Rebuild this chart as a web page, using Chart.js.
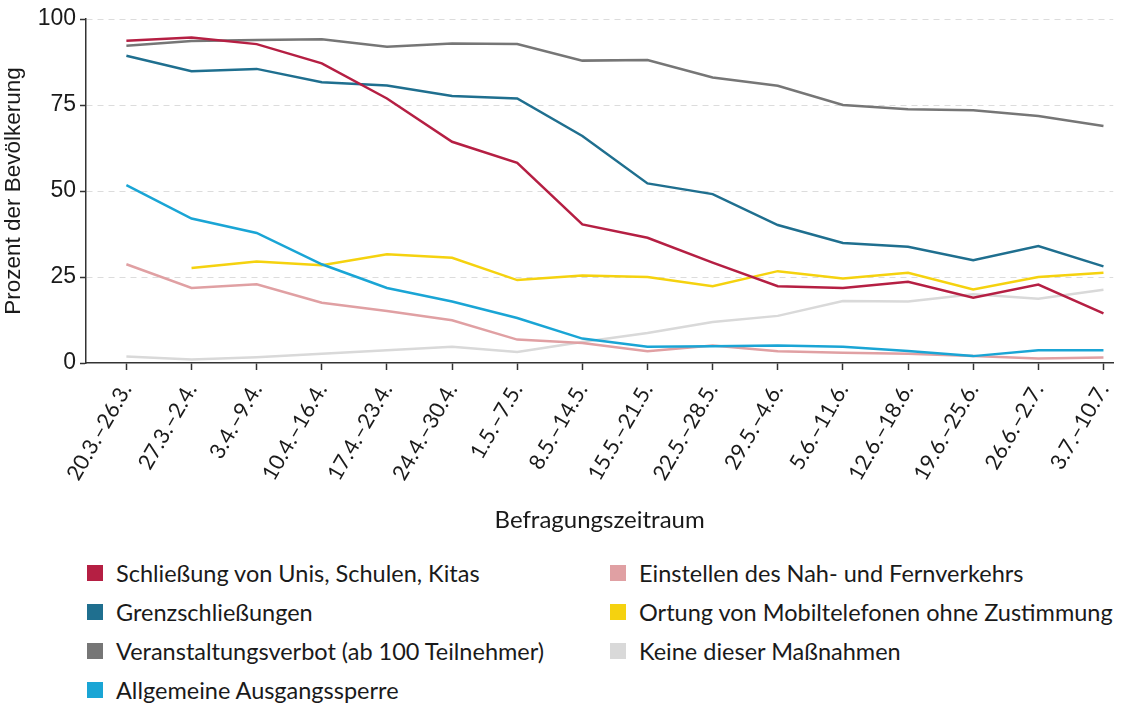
<!DOCTYPE html>
<html>
<head>
<meta charset="utf-8">
<script src="https://cdn.jsdelivr.net/npm/chart.js@4/dist/chart.umd.min.js"></script>
<style>
  html, body { margin: 0; padding: 0; background: #fff; }
  #wrap { position: relative; width: 1135px; height: 706px; overflow: hidden; }
  #box { position: absolute; left: 0; top: 0; width: 1135px; height: 540px; }
  #legend {
    position: absolute; left: 87px; top: 553px;
    display: grid; grid-auto-flow: column;
    grid-template-rows: repeat(4, 39px);
    grid-template-columns: 523px auto;
    font-family: Lato, "Noto Sans", sans-serif; font-size: 23.5px; color: #1a1a1a;
  }
  .item { display: flex; align-items: center; white-space: nowrap; }
  .sw { width: 16px; height: 16px; margin-right: 13px; flex: none; }
</style>
</head>
<body>
<div id="wrap">
  <div id="box"><canvas id="chart"></canvas></div>
  <div id="legend"></div>
</div>
<script>
// Befragungszeiträume
const labels = ['20.3.–26.3.', '27.3.–2.4.', '3.4.–9.4.', '10.4.–16.4.', '17.4.–23.4.', '24.4.–30.4.',
  '1.5.–7.5.', '8.5.–14.5.', '15.5.–21.5.', '22.5.–28.5.', '29.5.–4.6.', '5.6.–11.6.',
  '12.6.–18.6.', '19.6.–25.6.', '26.6.–2.7.', '3.7.–10.7.'];

// Werte in Prozent der Bevölkerung
const schliessung = [93.7, 94.6, 92.7, 87.1, 76.9, 64.3, 58.2, 40.3, 36.4, 29.2, 22.3, 21.8, 23.6, 19.0, 22.8, 14.4];
const grenze = [89.3, 84.8, 85.5, 81.6, 80.7, 77.6, 76.9, 66.0, 52.2, 49.1, 40.1, 34.9, 33.8, 29.9, 34.0, 28.1];
const veranstaltung = [92.2, 93.6, 93.9, 94.1, 91.9, 92.9, 92.7, 87.9, 88.1, 83.0, 80.6, 75.0, 73.8, 73.5, 71.8, 68.9];
const ausgang = [51.7, 42.0, 37.8, 28.7, 21.8, 17.9, 13.1, 7.1, 4.7, 4.9, 5.1, 4.7, 3.5, 2.0, 3.7, 3.7];
const verkehr = [28.7, 21.8, 22.9, 17.5, 15.1, 12.4, 6.8, 5.8, 3.4, 5.1, 3.4, 3.0, 2.7, 2.0, 1.3, 1.6];
const ortung = [null, 27.6, 29.5, 28.4, 31.6, 30.6, 24.1, 25.4, 25.0, 22.3, 26.7, 24.6, 26.2, 21.4, 25.0, 26.2];
const keine = [1.9, 1.0, 1.7, 2.7, 3.7, 4.7, 3.2, 6.1, 8.7, 11.9, 13.7, 18.0, 17.9, 20.0, 18.7, 21.3];

const yTicks = [0, 25, 50, 75, 100];

// Reihen: Name, Werte, Farbe
const series = [
  ['Schließung von Unis, Schulen, Kitas', schliessung, '#b51f43'],
  ['Grenzschließungen', grenze, '#1f6f8f'],
  ['Veranstaltungsverbot (ab 100 Teilnehmer)', veranstaltung, '#767676'],
  ['Allgemeine Ausgangssperre', ausgang, '#1aa5d5'],
  ['Einstellen des Nah- und Fernverkehrs', verkehr, '#e0a0a3'],
  ['Ortung von Mobiltelefonen ohne Zustimmung', ortung, '#f5d20f'],
  ['Keine dieser Maßnahmen', keine, '#d9d9d9']
];

const datasets = series.map(([name, vals, color]) => ({
  label: name,
  data: vals.map((v, i) => ({ x: i, y: v })),
  borderColor: color,
  backgroundColor: color,
  borderWidth: 2.5,
  pointRadius: 0,
  tension: 0,
  spanGaps: false
}));

const chart = new Chart(document.getElementById('chart'), {
  type: 'line',
  data: { datasets },
  options: {
    responsive: true,
    maintainAspectRatio: false,
    animation: false,
    layout: { padding: { top: 19, right: 20, left: 0, bottom: 0 } },
    plugins: { legend: { display: false }, tooltip: { enabled: false } },
    scales: {
      x: {
        type: 'linear',
        min: -0.62,
        max: 15.15,
        afterBuildTicks: s => { s.ticks = labels.map((l, i) => ({ value: i })); },
        afterFit: s => { s.height = 177; },
        grid: { drawOnChartArea: false, drawTicks: true, tickLength: 7, tickColor: '#333', tickWidth: 1.5 },
        border: { color: '#333', width: 1.5 },
        ticks: {
          autoSkip: false,
          minRotation: 60,
          maxRotation: 60,
          padding: 9,
          color: '#1a1a1a',
          font: { family: 'Lato, "Noto Sans", sans-serif', size: 21.5 },
          callback: v => labels[v]
        },
        title: {
          display: true,
          text: 'Befragungszeitraum',
          color: '#1a1a1a',
          font: { family: 'Lato, "Noto Sans", sans-serif', size: 24 },
          padding: { top: 0, bottom: 5 }
        }
      },
      y: {
        min: 0,
        max: 100,
        afterBuildTicks: s => { s.ticks = yTicks.map(v => ({ value: v })); },
        afterFit: s => { s.width = 86; },
        grid: {
          color: c => (c.tick && c.tick.value === 0) ? 'rgba(0,0,0,0)' : '#dcdcdc',
          lineWidth: 1,
          tickLength: 6,
          tickColor: '#333',
          tickWidth: 1.5,
          tickBorderDash: []
        },
        border: { color: '#333', width: 1.5, dash: [6, 5] },
        ticks: {
          padding: 4,
          color: '#1a1a1a',
          font: { family: '"Liberation Sans", Arial, sans-serif', size: 23 }
        },
        title: {
          display: true,
          text: 'Prozent der Bevölkerung',
          color: '#1a1a1a',
          font: { family: '"Liberation Sans", Arial, sans-serif', size: 22.5 },
          padding: { top: 0, bottom: 0 }
        }
      }
    }
  }
});

// Legende in zwei Spalten
const legend = document.getElementById('legend');
chart.data.datasets.forEach(ds => {
  const item = document.createElement('div');
  item.className = 'item';
  const sw = document.createElement('span');
  sw.className = 'sw';
  sw.style.background = ds.borderColor;
  item.appendChild(sw);
  item.appendChild(document.createTextNode(ds.label));
  legend.appendChild(item);
});
</script>
</body>
</html>
